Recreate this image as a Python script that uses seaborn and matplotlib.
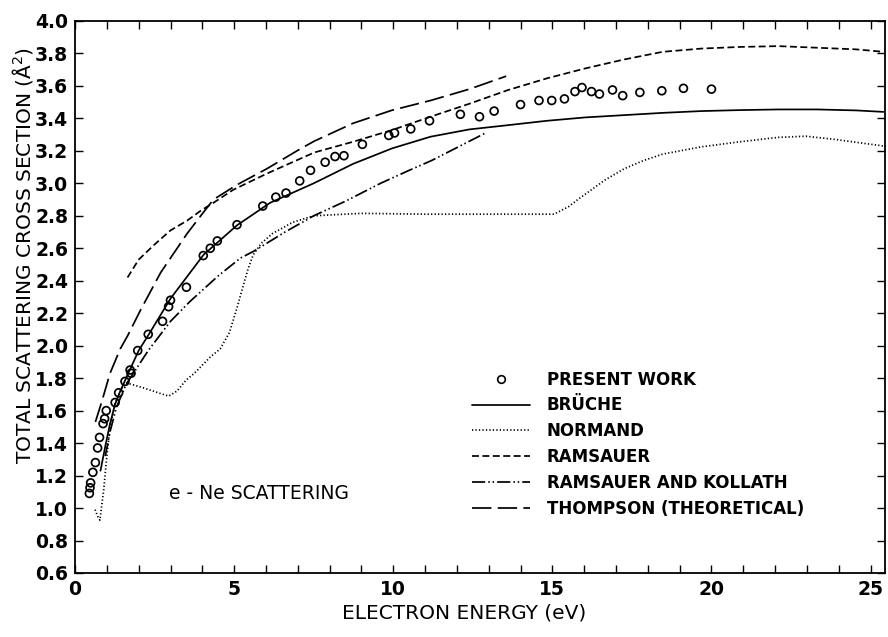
import numpy as np
import matplotlib
matplotlib.use("Agg")
import matplotlib.pyplot as plt
import seaborn as sns
from matplotlib.lines import Line2D
from matplotlib.legend_handler import HandlerLine2D
from matplotlib.ticker import MultipleLocator

# present work (open circles)
present_x = [0.45, 0.47, 0.49, 0.56, 0.64, 0.71, 0.77, 0.88, 0.93, 0.98,
             1.26, 1.37, 1.57, 1.73, 1.76, 1.97, 2.30, 2.75, 2.94, 3.0,
             3.5, 4.03, 4.25, 4.47, 5.09, 5.9, 6.31, 6.63, 7.06, 7.40,
             7.86, 8.17, 8.45, 9.03, 9.86, 10.04, 10.55, 11.14, 12.11, 12.71,
             13.17, 14.0, 14.58, 14.98, 15.38, 15.71, 15.93, 16.23, 16.48, 16.89,
             17.21, 17.75, 18.44, 19.12, 20.0]
present_y = [1.09, 1.125, 1.155, 1.22, 1.28, 1.37, 1.435, 1.52, 1.55, 1.60,
             1.65, 1.71, 1.78, 1.85, 1.83, 1.97, 2.07, 2.15, 2.24, 2.28,
             2.36, 2.555, 2.60, 2.645, 2.745, 2.86, 2.915, 2.94, 3.015, 3.08,
             3.13, 3.165, 3.17, 3.24, 3.295, 3.31, 3.335, 3.385, 3.425, 3.41,
             3.445, 3.485, 3.51, 3.51, 3.52, 3.565, 3.59, 3.565, 3.55, 3.575,
             3.54, 3.56, 3.57, 3.585, 3.58]

bruche_x = [0.80, 0.95, 1.1, 1.26, 1.4, 1.65, 2.0, 2.32, 3.0, 4.04, 5.08, 6.13,
            7.5, 8.74, 9.96, 11.17, 12.39, 13.6, 14.82, 16.04, 17.26, 18.47,
            19.69, 20.9, 22.1, 23.33, 24.55, 25.4]
bruche_y = [1.23, 1.38, 1.52, 1.64, 1.71, 1.82, 1.97, 2.07, 2.29, 2.56, 2.74, 2.88,
            3.0, 3.12, 3.215, 3.287, 3.332, 3.358, 3.385, 3.406, 3.42, 3.434,
            3.445, 3.451, 3.455, 3.455, 3.449, 3.44]

normand_x = [0.63, 0.71, 0.78, 0.90, 1.0, 1.10, 1.26, 1.47, 1.63, 2.15,
             2.77, 2.95, 3.2, 3.5, 3.75, 4.25, 4.56, 4.85, 5.1, 5.3,
             5.45, 5.6, 5.85, 6.2, 6.84, 7.5, 9.0, 11.0, 13.0, 15.05,
             15.5, 15.8, 16.65, 17.26, 17.86, 18.47, 19.69, 20.9, 22.1, 22.97,
             23.9, 25.4]
normand_y = [0.99, 0.95, 0.925, 1.11, 1.32, 1.50, 1.645, 1.74, 1.77, 1.74,
             1.70, 1.69, 1.72, 1.79, 1.83, 1.93, 1.98, 2.08, 2.24, 2.38,
             2.48, 2.56, 2.63, 2.69, 2.76, 2.80, 2.815, 2.81, 2.81, 2.81,
             2.855, 2.90, 3.02, 3.09, 3.14, 3.18, 3.225, 3.256, 3.283, 3.29,
             3.27, 3.23]

ramsauer_x = [1.65, 2.0, 2.48, 3.0, 3.52, 3.94, 4.35, 4.97, 5.5, 6.03,
              7.06, 7.52, 8.74, 9.96, 11.17, 12.39, 13.6, 14.82, 16.04, 17.26,
              18.47, 19.69, 20.9, 22.1, 23.33, 24.55, 25.4]
ramsauer_y = [2.42, 2.53, 2.62, 2.71, 2.77, 2.83, 2.88, 2.96, 3.01, 3.06,
              3.15, 3.19, 3.256, 3.328, 3.41, 3.49, 3.574, 3.646, 3.708, 3.763,
              3.81, 3.83, 3.84, 3.845, 3.835, 3.825, 3.81]

kollath_x = [0.95, 1.1, 1.3, 1.6, 1.8, 2.3, 3.0, 3.6, 4.5, 5.2, 5.6, 6.6,
             7.5, 8.5, 9.6, 10.5, 11.2, 12.0, 12.9]
kollath_y = [1.32, 1.47, 1.62, 1.76, 1.82, 1.97, 2.15, 2.27, 2.43, 2.54, 2.58, 2.70,
             2.80, 2.89, 3.00, 3.08, 3.14, 3.22, 3.31]

thompson_x = [0.64, 0.84, 1.10, 1.42, 1.65, 2.06, 2.69, 3.52, 4.03, 4.35,
              5.08, 6.03, 7.06, 7.52, 8.74, 9.96, 11.17, 12.39, 13.55]
thompson_y = [1.53, 1.655, 1.83, 1.98, 2.06, 2.22, 2.45, 2.69, 2.82, 2.90,
              2.99, 3.09, 3.21, 3.26, 3.37, 3.45, 3.51, 3.58, 3.66]

labels = ["PRESENT WORK", "BRÜCHE", "NORMAND", "RAMSAUER",
          "RAMSAUER AND KOLLATH", "THOMPSON (THEORETICAL)"]

sns.set_style("ticks")
plt.rcParams['font.family'] = ['DejaVu Sans']
plt.rcParams['lines.scale_dashes'] = False
for k in ['text.color', 'axes.labelcolor', 'xtick.color', 'ytick.color', 'axes.edgecolor']:
    plt.rcParams[k] = 'black'

fig = plt.figure(figsize=(8.88, 6.37), dpi=100)
ax = fig.add_axes([0.0845, 0.1005, 0.912, 0.8666])

lw = 1.25
ls_bruche = '-'
ls_normand = (0, (0.9, 1.6))
ls_ramsauer = (0, (5, 2.5))
ls_kollath = (0, (9.5, 2.2, 1.1, 2.0, 1.1, 2.2))
ls_thompson = (0, (14, 4.5))

sns.lineplot(x=bruche_x, y=bruche_y, ax=ax, color='black', lw=lw,
             linestyle=ls_bruche, estimator=None, sort=False)
sns.lineplot(x=normand_x, y=normand_y, ax=ax, color='black', lw=lw,
             linestyle=ls_normand, estimator=None, sort=False)
sns.lineplot(x=ramsauer_x, y=ramsauer_y, ax=ax, color='black', lw=lw,
             linestyle=ls_ramsauer, estimator=None, sort=False)
sns.lineplot(x=kollath_x, y=kollath_y, ax=ax, color='black', lw=lw,
             linestyle=ls_kollath, estimator=None, sort=False)
sns.lineplot(x=thompson_x, y=thompson_y, ax=ax, color='black', lw=lw,
             linestyle=ls_thompson, estimator=None, sort=False)
sns.scatterplot(x=present_x, y=present_y, ax=ax, marker='o', s=32,
                facecolors='none', edgecolor='black', linewidth=1.25, zorder=3)

ax.set_xlim(0, 25.45)
ax.set_ylim(0.6, 4.0)
ax.set_xticks([0, 5, 10, 15, 20, 25])
ax.xaxis.set_minor_locator(MultipleLocator(1))
ax.set_yticks(np.arange(0.6, 4.01, 0.2))
ax.set_yticklabels(["%.1f" % v for v in np.arange(0.6, 4.01, 0.2)])
ax.tick_params(which='both', direction='in', top=True, right=True,
               length=6, width=1.0, color='black')
ax.tick_params(which='major', labelsize=13.5, pad=5)
for t in ax.get_xticklabels() + ax.get_yticklabels():
    t.set_fontweight('bold')
for s in ax.spines.values():
    s.set_linewidth(1.3)
    s.set_color('black')

ax.set_xlabel("ELECTRON ENERGY (eV)", fontsize=14.5)
ax.xaxis.set_label_coords(0.48, -0.055)
ax.set_ylabel("TOTAL SCATTERING CROSS SECTION (Å$^2$)", fontsize=14.5)
ax.yaxis.set_label_coords(-0.05, 0.575)

ax.text(2.94, 1.09, "e - Ne SCATTERING", fontsize=13.5, va='center', ha='left')


class RightMarker(HandlerLine2D):
    def get_xdata(self, legend, xdescent, ydescent, width, height, fontsize):
        xdata = np.array([-xdescent, -xdescent + width])
        return xdata, np.array([-xdescent + width + 0.3 * fontsize])


handles = [
    Line2D([], [], ls='none', marker='o', ms=5.5, mfc='none', mec='black', mew=1.2),
    Line2D([], [], color='black', lw=lw, ls=ls_bruche),
    Line2D([], [], color='black', lw=lw, ls=ls_normand),
    Line2D([], [], color='black', lw=lw, ls=ls_ramsauer),
    Line2D([], [], color='black', lw=lw, ls=ls_kollath),
    Line2D([], [], color='black', lw=lw, ls=ls_thompson),
]
leg = ax.legend(handles, labels, loc='upper left', bbox_to_anchor=(0.49, 0.3665),
                frameon=False, handlelength=3.5, handletextpad=1.0,
                labelspacing=0.47, borderpad=0, borderaxespad=0,
                handler_map={handles[0]: RightMarker(numpoints=1)},
                prop={'weight': 'bold', 'size': 12})

fig.savefig("out.png", dpi=100)
